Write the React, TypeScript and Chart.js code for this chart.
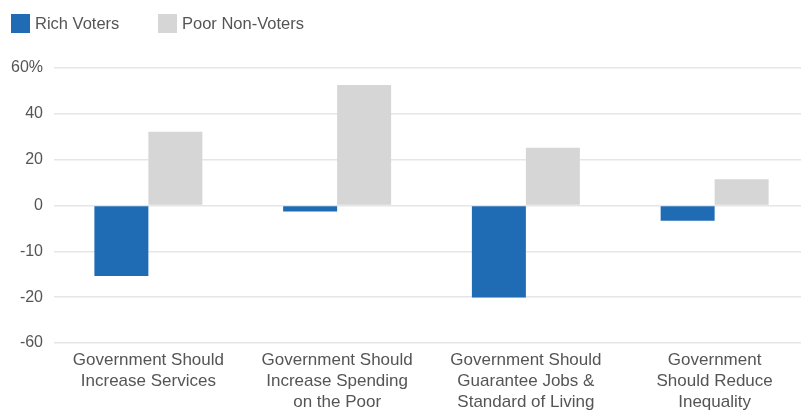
import React, { useEffect, useRef } from "react";
import { Chart, registerables } from "chart.js";

Chart.register(...registerables);

const categories: string[][] = [
  ["Government Should", "Increase Services"],
  ["Government Should", "Increase Spending", "on the Poor"],
  ["Government Should", "Guarantee Jobs &", "Standard of Living"],
  ["Government", "Should Reduce", "Inequality"],
];
const richVoters = [-15.4, -1.3, -20.3, -3.3];
const poorNonVoters = [32.2, 52.6, 25.2, 11.5];
const tickValues = [-60, -20, -10, 0, 20, 40, 60];
const tickLabels = ["-60", "-20", "-10", "0", "20", "40", "60%"];

const RICH_COLOR = "#1f6cb4";
const POOR_COLOR = "#d6d6d6";
const FONT = "'Liberation Sans', Arial, sans-serif";

// The source chart uses evenly spaced gridlines for uneven tick values;
// map each value onto that axis piecewise between neighbouring ticks.
function toAxis(v: number): number {
  const base = -(tickValues.length - 1) / 2;
  for (let i = 0; i < tickValues.length - 1; i++) {
    const a = tickValues[i];
    const b = tickValues[i + 1];
    if (v >= a && v <= b) return base + i + (v - a) / (b - a);
  }
  return v < tickValues[0] ? base : -base;
}

export default function App() {
  const ref = useRef<HTMLCanvasElement>(null);

  useEffect(() => {
    if (!ref.current) return;
    const half = (tickValues.length - 1) / 2;
    const chart = new Chart(ref.current, {
      type: "bar",
      data: {
        labels: categories,
        datasets: [
          {
            label: "Rich Voters",
            data: richVoters.map(toAxis),
            backgroundColor: RICH_COLOR,
            categoryPercentage: 0.572,
            barPercentage: 1,
          },
          {
            label: "Poor Non-Voters",
            data: poorNonVoters.map(toAxis),
            backgroundColor: POOR_COLOR,
            categoryPercentage: 0.572,
            barPercentage: 1,
          },
        ],
      },
      options: {
        responsive: false,
        animation: false,
        layout: { padding: { top: 68, right: 3, left: 0, bottom: 0 } },
        plugins: {
          legend: { display: false },
          tooltip: { enabled: false },
        },
        scales: {
          x: {
            grid: { display: false },
            border: { display: false },
            ticks: {
              color: "#555",
              font: { family: FONT, size: 17, lineHeight: 1.24 },
              maxRotation: 0,
              minRotation: 0,
              autoSkip: false,
              padding: -1,
            },
            afterFit: (s: any) => {
              s.height = 69;
            },
          },
          y: {
            min: -half,
            max: half,
            grid: {
              color: "#e6e6e6",
              lineWidth: 1.5,
              drawTicks: false,
            },
            border: { display: false },
            ticks: {
              stepSize: 1,
              color: "#555",
              font: { family: FONT, size: 16 },
              padding: 11,
              callback: (v: any) => tickLabels[Math.round(Number(v) + half)] ?? "",
            },
            afterFit: (s: any) => {
              s.width = 54;
            },
          },
        },
      },
    });
    return () => chart.destroy();
  }, []);

  const legendItem = (color: string, text: string, left: number) => (
    <div
      style={{
        position: "absolute",
        left,
        top: 13,
        display: "flex",
        alignItems: "center",
        height: 20,
      }}
    >
      <span style={{ width: 19, height: 19, background: color, display: "inline-block" }} />
      <span style={{ marginLeft: 5, fontFamily: FONT, fontSize: 16.5, color: "#555", whiteSpace: "nowrap" }}>
        {text}
      </span>
    </div>
  );

  return (
    <div
      style={{
        position: "fixed",
        left: 0,
        top: 0,
        width: 801,
        height: 412,
        overflow: "hidden",
        background: "#fff",
      }}
    >
      <canvas ref={ref} width={812} height={412} style={{ display: "block" }} />
      {legendItem(RICH_COLOR, "Rich Voters", 11)}
      {legendItem(POOR_COLOR, "Poor Non-Voters", 158)}
    </div>
  );
}
